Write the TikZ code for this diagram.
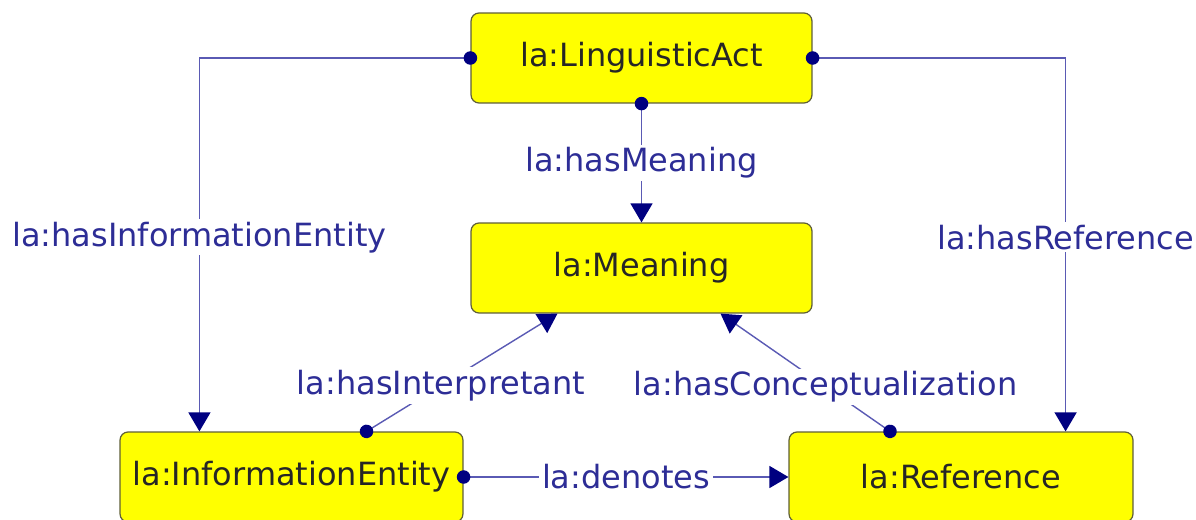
\documentclass[tikz,border=0pt]{standalone}
\usepackage{fontspec}
\setmainfont{DejaVu Sans}
\usetikzlibrary{arrows.meta,calc}
\definecolor{boxfill}{RGB}{255,255,0}
\definecolor{boxline}{RGB}{95,95,55}
\definecolor{edgecol}{RGB}{90,90,180}
\definecolor{tipcol}{RGB}{0,0,128}
\definecolor{lblcol}{RGB}{45,45,150}
\tikzset{
	cls/.style={draw=boxline,fill=boxfill,line width=0.7pt,rounded corners=0.16cm,minimum width=6.82cm,minimum height=1.8cm,inner sep=0,text=black!85,font=\fontsize{18.2}{21}\selectfont},
	rel/.style={draw=edgecol,line width=0.8pt,{Circle[length=0.27cm,color=tipcol]}-{Triangle[length=0.38cm,width=0.44cm,color=tipcol]},shorten <=-0.135cm},
	rellabel/.style={fill=white,text=lblcol,inner sep=1.5pt,font=\fontsize{18.2}{21}\selectfont}
}
\begin{document}
\begin{tikzpicture}[x=0.02cm,y=-0.02cm]
	\useasboundingbox (0,0) rectangle (1196,520);
	\node[cls] (la) at (641.5,58) {la:LinguisticAct};
	\node[cls] (meaning) at (641.5,268) {la:Meaning};
	\node[cls,minimum width=6.86cm] (ie) at (291.5,477) {la:InformationEntity};
	\node[cls,minimum width=6.88cm] (ref) at (961,477) {la:Reference};
	\draw[rel] (la.west) -| ($(ie.north west)+(80,0)$) node[rellabel,pos=0.74] {la:hasInformationEntity};
	\draw[rel] (la.east) -| ($(ref.north east)+(-68,0)$) node[rellabel,pos=0.74] {la:hasReference};
	\draw[rel] (la.south) -- (meaning.north) node[rellabel,midway] {la:hasMeaning};
	\draw[rel] ($(ie.north)+(75,0)$) -- ($(meaning.south)+(-84,0)$) node[rellabel,pos=0.39] {la:hasInterpretant};
	\draw[rel] ($(ref.north)+(-71,0)$) -- ($(meaning.south)+(79,0)$) node[rellabel,pos=0.38] {la:hasConceptualization};
	\draw[rel] (ie.east) -- (ref.west) node[rellabel,midway] {la:denotes};
\end{tikzpicture}
\end{document}
